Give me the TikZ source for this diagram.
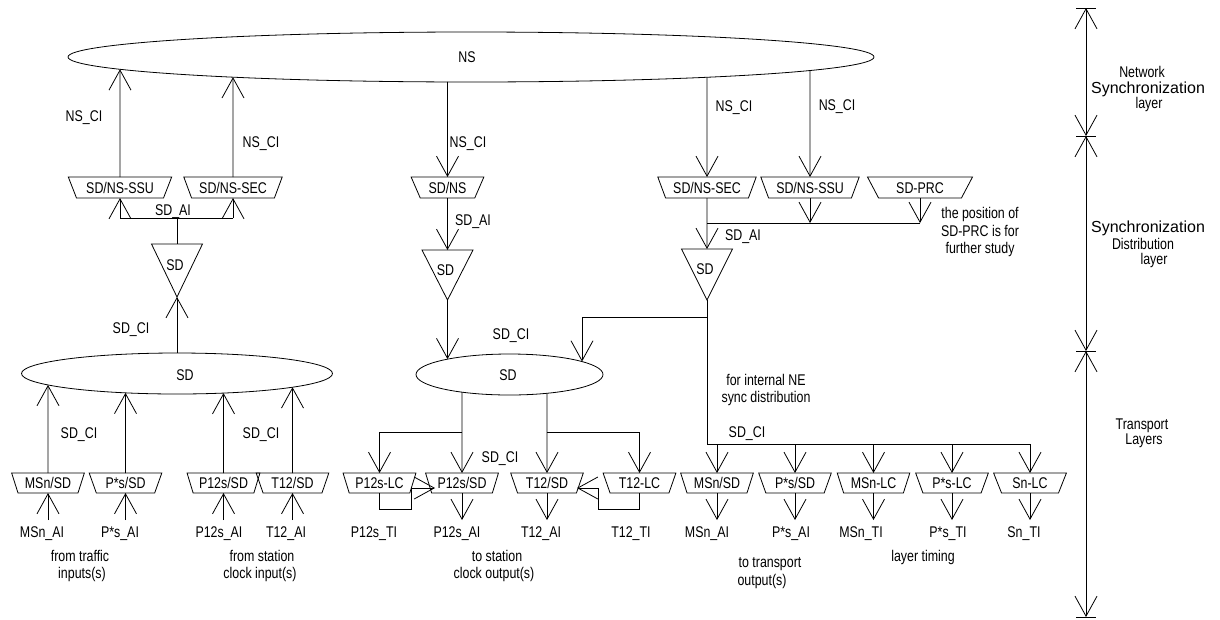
\documentclass[tikz,border=0pt]{standalone}
\usepackage{fontspec}
\setmainfont{Liberation Sans}[FakeStretch=0.8]
\newfontfamily\widefont{Liberation Sans}
\usetikzlibrary{arrows.meta,shapes.geometric}
% point on an ellipse: name, x, cx, cy, a, b, sign (+1 lower half, -1 upper half)
\newcommand\EllPt[7]{\coordinate (#1) at ({#2},{#4+#7*#6*sqrt(1-((#2-#3)/#5)^2)});}
% SD triangle: name, x, ytop, yapex
\newcommand\SDtri[4]{%
  \draw ({#2-25.5},{#3}) -- ({#2+25.5},{#3}) -- ({#2},{#4}) -- cycle;
  \coordinate (#1-in) at ({#2},{#3});
  \coordinate (#1-out) at ({#2},{#4});
  \node[lbl] (#1) at ({#2-2},{#3+0.4*(#4-#3)}) {SD};}
\begin{document}
\begin{tikzpicture}[x=1pt,y=-1pt,
  font=\fontsize{15.5}{18}\selectfont,
  line width=0.8pt,
  >={Straight Barb[length=20pt,width=22pt]},
  lbl/.style={inner sep=0pt, text height=11pt, text depth=0pt},
  boxU/.style={draw, trapezium, shape border rotate=180, trapezium stretches=true,
    trapezium left angle=60, trapezium right angle=60, minimum height=21pt,
    inner sep=0pt, outer sep=0pt, text height=11pt, text depth=0pt},
  boxL/.style={draw, trapezium, shape border rotate=180, trapezium stretches=true,
    trapezium left angle=66, trapezium right angle=66, minimum height=20pt, minimum width=73pt,
    inner sep=0pt, outer sep=0pt, text height=11pt, text depth=0pt},
  ell/.style={draw, ellipse, inner sep=0pt, outer sep=0pt},
  big/.style={inner sep=0pt, text height=11.5pt, text depth=0pt, font=\widefont\fontsize{16}{19}\selectfont}]
\useasboundingbox (0,0) rectangle (1220,619);

% ---------- ellipses ----------
\node[ell, minimum width=806pt, minimum height=50pt] (NS) at (471,57) {};
\node[lbl] (tNS) at (467,57) {NS};
\node[ell, minimum width=311pt, minimum height=41pt] (sdL) at (177,373.5) {};
\node[lbl] (tsdL) at (185,375) {SD};
\node[ell, minimum width=187pt, minimum height=41pt] (sdM) at (509.5,374.5) {};
\node[lbl] (tsdM) at (508,375) {SD};

% ---------- upper boxes ----------
\node[boxU, minimum width=104pt] (bSSUl) at (120,187.5) {SD/NS-SSU};
\node[boxU, minimum width=99pt]  (bSECl) at (233,187.5) {SD/NS-SEC};
\node[boxU, minimum width=73pt]  (bNS)   at (447.5,187.5) {SD/NS};
\node[boxU, minimum width=99pt]  (bSECr) at (707,187.5) {SD/NS-SEC};
\node[boxU, minimum width=99pt]  (bSSUr) at (810,187.5) {SD/NS-SSU};
\node[boxU, minimum width=105pt] (bPRC)  at (920,187.5) {SD-PRC};

% ---------- lower boxes ----------
\node[boxL] (L1) at (48,483)    {MSn/SD};
\node[boxL] (L2) at (125.5,483) {P*s/SD};
\node[boxL] (L3) at (223.5,483) {P12s/SD};
\node[boxL] (L4) at (292.5,483) {T12/SD};
\node[boxL] (M1) at (379.5,483) {P12s-LC};
\node[boxL] (M2) at (462,483)   {P12s/SD};
\node[boxL] (M3) at (547,483)   {T12/SD};
\node[boxL] (M4) at (639.5,483) {T12-LC};
\node[boxL] (R1) at (717,483)   {MSn/SD};
\node[boxL] (R2) at (795,483)   {P*s/SD};
\node[boxL] (R3) at (873.5,483) {MSn-LC};
\node[boxL] (R4) at (952,483)   {P*s-LC};
\node[boxL] (R5) at (1030,483)  {Sn-LC};

% ---------- triangles ----------
\SDtri{tL}{177}{244}{297}
\SDtri{tM}{447.5}{250}{300}
\SDtri{tR}{707}{249}{300}

% ---------- points on ellipses ----------
\EllPt{nsA}{120}{471}{57}{403}{25}{1}
\EllPt{nsB}{233}{471}{57}{403}{25}{1}
\EllPt{nsC}{447.5}{471}{57}{403}{25}{1}
\EllPt{nsD}{707}{471}{57}{403}{25}{1}
\EllPt{nsE}{810}{471}{57}{403}{25}{1}
\EllPt{lA}{48}{177}{373.5}{155.5}{20.5}{1}
\EllPt{lB}{125.5}{177}{373.5}{155.5}{20.5}{1}
\EllPt{lC}{223.5}{177}{373.5}{155.5}{20.5}{1}
\EllPt{lD}{292.5}{177}{373.5}{155.5}{20.5}{1}
\EllPt{mA}{447.5}{509.5}{374.5}{93.5}{20.5}{-1}
\EllPt{mB}{582}{509.5}{374.5}{93.5}{20.5}{-1}
\EllPt{mC}{462}{509.5}{374.5}{93.5}{20.5}{1}
\EllPt{mD}{547}{509.5}{374.5}{93.5}{20.5}{1}

% ---------- helper coordinates ----------
\coordinate (barL) at (177,218);
\coordinate (barR) at (707,223);
\coordinate (jR)   at (707,317);
\coordinate (busR) at (707,444);
\coordinate (hM)   at (0,432);
\coordinate (hB)   at (0,520);
\coordinate (fbL)  at (435,488);
\coordinate (fbR)  at (577,488);

% ---------- connectors: network layer ----------
\draw[->] (bSSUl.north) -- (nsA);
\draw[->] (bSECl.north) -- (nsB);
\draw[->] (nsC) -- (bNS.north);
\draw[->] (nsD) -- (bSECr.north);
\draw[->] (nsE) -- (bSSUr.north);

% left chain
\draw (bSSUl.south |- barL) -- (bSECl.south |- barL);
\draw[->] (bSSUl.south |- barL) -- (bSSUl.south);
\draw[->] (bSECl.south |- barL) -- (bSECl.south);
\draw (barL) -- (tL-in);
\draw[->] (sdL.north) -- (tL-out);

% middle chain
\draw[->] (bNS.south) -- (tM-in);
\draw[->] (tM-out) -- (mA);

% right chain
\draw[->] (bSECr.south) -- (tR-in);
\draw (barR) -- (bPRC.south |- barR);
\draw[->] (bSSUr.south) -- (bSSUr.south |- barR);
\draw[->] (bPRC.south) -- (bPRC.south |- barR);
\draw (tR-out) -- (busR) -- (R5.north |- busR);
\draw[->] (jR) -| (mB);
\foreach \n in {R1,R2,R3,R4,R5} \draw[->] (\n.north |- busR) -- (\n.north);

% left ellipse inputs
\draw[->] (L1.north) -- (lA);
\draw[->] (L2.north) -- (lB);
\draw[->] (L3.north) -- (lC);
\draw[->] (L4.north) -- (lD);
\foreach \n in {L1,L2,L3,L4} \draw[->] (\n.south |- hB) -- (\n.south);

% middle ellipse outputs
\draw[->] (mC) -- (M2.north);
\draw[->] (mC |- hM) -| (M1.north);
\draw[->] (mD) -- (M3.north);
\draw[->] (mD |- hM) -| (M4.north);
\draw[->] (M1.south) |- (411,509) |- (fbL);
\draw[->] (M4.south) |- (598,509) |- (fbR);
\foreach \n in {M2,M3,R1,R2,R3,R4,R5} \draw[->] (\n.south) -- (\n.south |- hB);

% ---------- labels ----------
\node[lbl] (c1) at (84,116)  {NS\_CI};
\node[lbl] (c2) at (261,142) {NS\_CI};
\node[lbl] (c3) at (468,142) {NS\_CI};
\node[lbl] (c4) at (734,106) {NS\_CI};
\node[lbl] (c5) at (837,105) {NS\_CI};
\node[lbl] (a1) at (173,210) {SD\_AI};
\node[lbl] (a2) at (473,220) {SD\_AI};
\node[lbl] (a3) at (743,235) {SD\_AI};
\node[lbl] (d1) at (131,328) {SD\_CI};
\node[lbl] (d2) at (511,334) {SD\_CI};
\node[lbl] (d3) at (79,433)  {SD\_CI};
\node[lbl] (d4) at (261,433) {SD\_CI};
\node[lbl] (d5) at (500,457) {SD\_CI};
\node[lbl] (d6) at (747,432) {SD\_CI};

\node[lbl] (n1) at (980,213) {the position of};
\node[lbl] (n2) at (980,231) {SD-PRC is for};
\node[lbl] (n3) at (980,248) {further study};
\node[lbl] (f1) at (766,380) {for internal NE};
\node[lbl] (f2) at (766,397) {sync distribution};

\node[lbl] (o1)  at (42,532)  {MSn\_AI};
\node[lbl] (o2)  at (120,532) {P*s\_AI};
\node[lbl] (o3)  at (219,532) {P12s\_AI};
\node[lbl] (o4)  at (286,532) {T12\_AI};
\node[lbl] (o5)  at (374,532) {P12s\_TI};
\node[lbl] (o6)  at (457,532) {P12s\_AI};
\node[lbl] (o7)  at (541,532) {T12\_AI};
\node[lbl] (o8)  at (631,532) {T12\_TI};
\node[lbl] (o9)  at (707,532) {MSn\_AI};
\node[lbl] (o10) at (791,532) {P*s\_AI};
\node[lbl] (o11) at (861,532) {MSn\_TI};
\node[lbl] (o12) at (948,532) {P*s\_TI};
\node[lbl] (o13) at (1024,532) {Sn\_TI};

\node[lbl] (g1) at (80,556)  {from traffic};
\node[lbl] (g2) at (82,573)  {inputs(s)};
\node[lbl] (g3) at (262,556) {from station};
\node[lbl] (g4) at (260,573) {clock input(s)};
\node[lbl] (g5) at (497,556) {to station};
\node[lbl] (g6) at (494,573) {clock output(s)};
\node[lbl] (g7) at (770,562) {to transport};
\node[lbl] (g8) at (762,580) {output(s)};
\node[lbl] (g9) at (923,556) {layer timing};

% ---------- layer scale ----------
\coordinate (ax0) at (1086,8);
\coordinate (ax1) at (1086,136);
\coordinate (ax2) at (1086,351);
\coordinate (ax3) at (1086,617);
\draw[<->] (ax0) -- (ax1);
\draw[<->] (ax1) -- (ax2);
\draw[<->] (ax2) -- (ax3);
\foreach \a in {ax0,ax1,ax2,ax3} \draw ([xshift=-10pt]\a) -- ([xshift=10pt]\a);

\node[lbl] (s1) at (1142,72)  {Network};
\node[big] (s2) at (1148,88)  {Synchronization};
\node[lbl] (s3) at (1149,103) {layer};
\node[big] (s4) at (1148,227) {Synchronization};
\node[lbl] (s5) at (1143,244) {Distribution};
\node[lbl] (s6) at (1154,259) {layer};
\node[lbl] (s7) at (1142,424) {Transport};
\node[lbl] (s8) at (1144,439) {Layers};
\end{tikzpicture}
\end{document}
